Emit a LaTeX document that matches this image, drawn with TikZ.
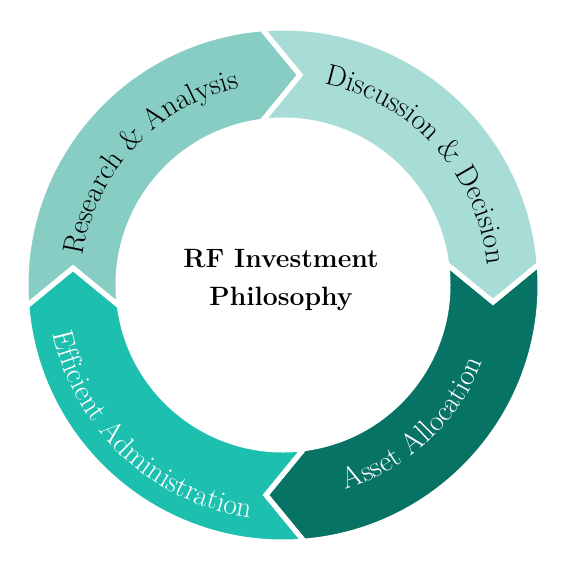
\documentclass[tikz,border=0pt]{standalone}
\usetikzlibrary{decorations.text}

\definecolor{resc}{HTML}{88CDC4}
\definecolor{disc}{HTML}{A8DCD7}
\definecolor{assc}{HTML}{067365}
\definecolor{effc}{HTML}{1DBFAF}
\newcommand{\segfont}{\fontsize{29.5}{32}\selectfont}

\begin{document}
\begin{tikzpicture}[x=1pt, y=1pt]
\tikzstyle{gap} = [draw=white, line width=5pt, line join=miter]
\tikzstyle{title} = [align=center, font=\bfseries\fontsize{26.5}{38}\selectfont]
\tikzstyle{label} = [decorate, decoration={text along path, text align=center}]

\useasboundingbox (-283,-286) rectangle (284,285);

% four arrow segments of the ring, Research at the upper left
\foreach \ang/\col in {0/resc, -90/disc, -180/assc, -270/effc}
  \fill[\col, rotate=\ang] ({180+asin(21/257)}:257) arc[start angle={180+asin(21/257)}, end angle={90+asin(21/257)}, radius=257]
    -- (17,210) -- ({90+asin(21/165)}:165) arc[start angle={90+asin(21/165)}, end angle={180+asin(21/165)}, radius=165]
    -- (-210,17) -- cycle;
\foreach \ang in {0, -90, -180, -270}
  \draw[gap, rotate=\ang] ({180+asin(21/257)}:257) arc[start angle={180+asin(21/257)}, end angle={90+asin(21/257)}, radius=257]
    -- (17,210) -- ({90+asin(21/165)}:165) arc[start angle={90+asin(21/165)}, end angle={180+asin(21/165)}, radius=165]
    -- (-210,17) -- cycle;

% labels along the ring
\path[label, decoration={text={|\segfont|Research {\&} Analysis}}] (187:202) arc[start angle=187, end angle=87, radius=202];
\path[label, decoration={text={|\segfont|Discussion {\&} Decision}}] (92:205) arc[start angle=92, end angle=-8, radius=205];
\path[label, decoration={text={|\segfont\color{white}|Asset Allocation}}] (-97:214) arc[start angle=-97, end angle=3, radius=214];
\path[label, decoration={text={|\segfont\color{white}|Efficient Administration}}] (177:235) arc[start angle=177, end angle=277, radius=235];

\node (philo) at (-2,5) [title] {RF Investment\\Philosophy};

\end{tikzpicture}
\end{document}
